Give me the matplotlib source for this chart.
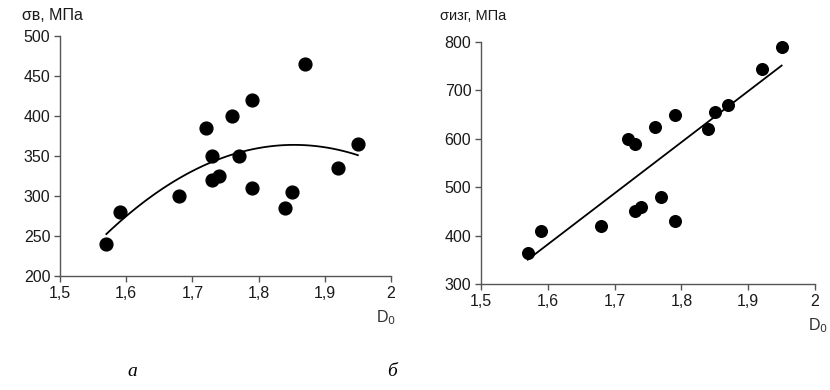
import numpy as np
import matplotlib
matplotlib.use("Agg")
import matplotlib.pyplot as plt

plt.rcParams['font.family'] = ['Liberation Sans', 'DejaVu Sans']

# Panel a: ultimate strength vs D0
d0 = [1.57, 1.59, 1.68, 1.72, 1.73, 1.73, 1.74, 1.76, 1.77, 1.79, 1.79, 1.84, 1.85, 1.87, 1.92, 1.95]
sigma_b = [240, 280, 300, 385, 350, 320, 325, 400, 350, 420, 310, 285, 305, 465, 335, 365]
# Panel б: bending strength vs D0
sigma_izg = [365, 410, 420, 600, 590, 450, 460, 625, 480, 650, 430, 620, 655, 670, 745, 790]

xticks = [1.5, 1.6, 1.7, 1.8, 1.9, 2.0]
xticklabels = ["1,5", "1,6", "1,7", "1,8", "1,9", "2"]
yticks_a = [200, 250, 300, 350, 400, 450, 500]
yticks_b = [300, 400, 500, 600, 700, 800]

fig = plt.figure(figsize=(8.3, 3.9), dpi=100)
ax1 = fig.add_axes([0.0723, 0.2923, 0.3987, 0.6154])
ax2 = fig.add_axes([0.5795, 0.2718, 0.4025, 0.6205])

def style(ax, yticks, fs):
    for s in ['top', 'right']:
        ax.spines[s].set_visible(False)
    for s in ['left', 'bottom']:
        ax.spines[s].set_color('#555555')
        ax.spines[s].set_linewidth(1.0)
    ax.set_xlim(1.5, 2.0)
    ax.set_ylim(yticks[0], yticks[-1])
    ax.set_xticks(xticks)
    ax.set_xticklabels(xticklabels)
    ax.set_yticks(yticks)
    ax.tick_params(direction='out', length=4, width=1.0, color='#555555',
                   labelsize=fs, labelcolor='#1a1a1a', pad=3)

xa = np.array(d0)
xf = np.linspace(min(d0), max(d0), 100)

# panel a
style(ax1, yticks_a, 11.5)
c2 = np.polyfit(xa, np.array(sigma_b), 2)
ax1.plot(xf, np.polyval(c2, xf), color='black', lw=1.3)
ax1.scatter(d0, sigma_b, s=85, color='black', zorder=3, clip_on=False)

# panel b
style(ax2, yticks_b, 11.5)
c1 = np.polyfit(xa, np.array(sigma_izg), 1)
ax2.plot(xf, np.polyval(c1, xf), color='black', lw=1.3)
ax2.scatter(d0, sigma_izg, s=70, color='black', zorder=3, clip_on=False)

fig.text(22/830, 1 - 16/390, "σв, МПа", fontsize=11.5, color='#1a1a1a', va='center', ha='left')
fig.text(440/830, 1 - 16/390, "σизг, МПа", fontsize=10.5, color='#1a1a1a', va='center', ha='left')
fig.text(386/830, 1 - 318/390, "D$_0$", fontsize=11.5, color='#333333', va='center', ha='center')
fig.text(818/830, 1 - 326/390, "D$_0$", fontsize=11.5, color='#333333', va='center', ha='center')

fig.text(132/830, 1 - 372/390, "а", fontsize=14, style='italic', family=['Liberation Serif', 'DejaVu Serif'],
         ha='center', va='center')
fig.text(392/830, 1 - 372/390, "б", fontsize=14, style='italic', family=['Liberation Serif', 'DejaVu Serif'],
         ha='center', va='center')

fig.savefig("out.png", dpi=100)
